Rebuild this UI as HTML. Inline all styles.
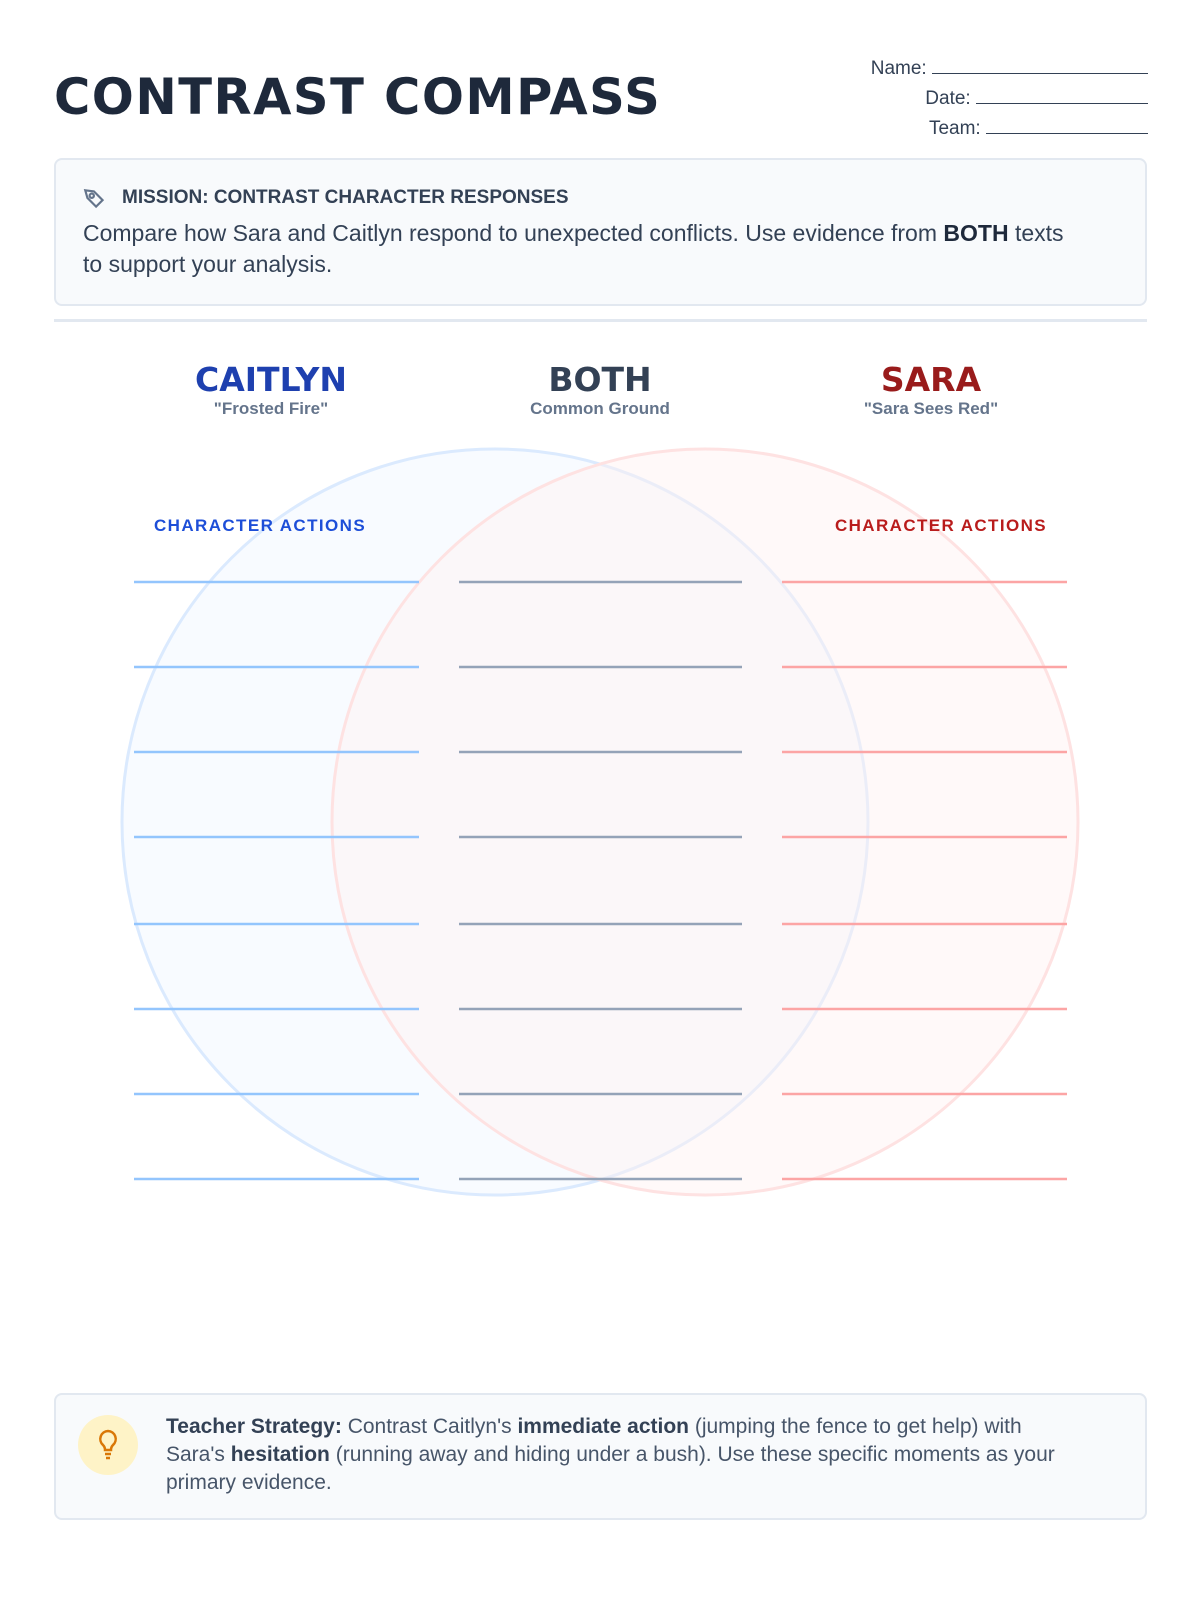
<!DOCTYPE html>
<html><head><meta charset="utf-8"><style>
*{margin:0;padding:0;box-sizing:border-box}
body{width:1200px;height:1600px;background:#fff;font-family:"Liberation Sans",sans-serif;color:#1e293b;position:relative;overflow:hidden}
.abs{position:absolute}
h1{position:absolute;left:54px;top:68px;font-size:50px;font-weight:900;letter-spacing:1.5px;color:#1e293b;font-family:"DejaVu Sans","Liberation Sans",sans-serif;transform:scaleX(0.99);transform-origin:left}
.f{position:absolute;right:52px;font-size:19px;color:#334155;white-space:nowrap}
.f span{display:inline-block;border-bottom:1.5px solid #334155;height:18px;vertical-align:baseline}
.box{position:absolute;left:54px;width:1093px;background:#f8fafc;border:2px solid #e2e8f0;border-radius:8px}
.hl{position:absolute;text-align:center;transform:translateX(-50%);white-space:nowrap}
.hl b{display:block;font-size:33px;font-weight:900;font-family:"DejaVu Sans",sans-serif}
.hl i{display:block;font-style:normal;font-size:17px;font-weight:bold;color:#64748b;margin-top:0px}
.ca{position:absolute;font-size:17px;font-weight:bold;letter-spacing:1.4px}
</style></head><body>
<h1>CONTRAST COMPASS</h1>
<div class="f" style="top:56px">Name: <span style="width:216px"></span></div>
<div class="f" style="top:86px">Date: <span style="width:172px"></span></div>
<div class="f" style="top:116px">Team: <span style="width:162px"></span></div>
<div class="box" style="top:158px;height:148px">
<svg class="abs" style="left:26px;top:26px" width="26" height="26" viewBox="0 0 24 24" fill="none" stroke="#64748b" stroke-width="2"><path d="M3 4l8 1 8 8-6 6-8-8z"/><circle cx="9" cy="9" r="2"/></svg>
<div class="abs" style="left:66px;top:27px;font-size:19px;font-weight:bold;color:#334155">MISSION: CONTRAST CHARACTER RESPONSES</div>
<div class="abs" style="left:27px;top:58px;width:1060px;font-size:23px;line-height:31px;color:#334155;white-space:nowrap">Compare how Sara and Caitlyn respond to unexpected conflicts. Use evidence from <b style="color:#1e293b">BOTH</b> texts<br>to support your analysis.</div>
</div>
<div class="abs" style="left:54px;top:319px;width:1093px;height:3px;background:#e2e8f0"></div>
<svg class="abs" style="left:0;top:0" width="1200" height="1600">
<circle cx="495" cy="822" r="373" fill="#eff6ff" fill-opacity="0.45" stroke="#dbeafe" stroke-width="3"/>
<circle cx="705" cy="822" r="373" fill="#fef2f2" fill-opacity="0.45" stroke="#fee2e2" stroke-width="3"/>
<g stroke-width="2.5">
<g stroke="#93c5fd"><line x1="134" x2="419" y1="582" y2="582"/><line x1="134" x2="419" y1="667" y2="667"/><line x1="134" x2="419" y1="752" y2="752"/><line x1="134" x2="419" y1="837" y2="837"/><line x1="134" x2="419" y1="924" y2="924"/><line x1="134" x2="419" y1="1009" y2="1009"/><line x1="134" x2="419" y1="1094" y2="1094"/><line x1="134" x2="419" y1="1179" y2="1179"/></g>
<g stroke="#94a3b8"><line x1="459" x2="742" y1="582" y2="582"/><line x1="459" x2="742" y1="667" y2="667"/><line x1="459" x2="742" y1="752" y2="752"/><line x1="459" x2="742" y1="837" y2="837"/><line x1="459" x2="742" y1="924" y2="924"/><line x1="459" x2="742" y1="1009" y2="1009"/><line x1="459" x2="742" y1="1094" y2="1094"/><line x1="459" x2="742" y1="1179" y2="1179"/></g>
<g stroke="#fca5a5"><line x1="782" x2="1067" y1="582" y2="582"/><line x1="782" x2="1067" y1="667" y2="667"/><line x1="782" x2="1067" y1="752" y2="752"/><line x1="782" x2="1067" y1="837" y2="837"/><line x1="782" x2="1067" y1="924" y2="924"/><line x1="782" x2="1067" y1="1009" y2="1009"/><line x1="782" x2="1067" y1="1094" y2="1094"/><line x1="782" x2="1067" y1="1179" y2="1179"/></g>
</g></svg>
<div class="hl" style="left:271px;top:360px"><b style="color:#1e40af">CAITLYN</b><i>"Frosted Fire"</i></div>
<div class="hl" style="left:600px;top:360px"><b style="color:#334155">BOTH</b><i>Common Ground</i></div>
<div class="hl" style="left:931px;top:360px"><b style="color:#991b1b">SARA</b><i>"Sara Sees Red"</i></div>
<div class="ca" style="left:154px;top:516px;color:#1d4ed8">CHARACTER ACTIONS</div>
<div class="ca" style="right:153px;top:516px;color:#b91c1c">CHARACTER ACTIONS</div>
<div class="box" style="top:1393px;height:127px">
<div class="abs" style="left:22px;top:20px;width:60px;height:60px;border-radius:50%;background:#fef3c7"></div>
<svg class="abs" style="left:40px;top:33px" width="24" height="34" viewBox="0 0 24 34" fill="none" stroke="#d97706" stroke-width="2.5"><path d="M12 3a8 8 0 0 0-5 14c1 1 2 3 2 5h6c0-2 1-4 2-5a8 8 0 0 0-5-14z"/><line x1="9" y1="26" x2="15" y2="26"/><line x1="10" y1="30" x2="14" y2="30"/></svg>
<div class="abs" style="left:110px;top:18px;width:960px;font-size:21px;line-height:28px;color:#475569;white-space:nowrap"><b style="color:#334155">Teacher Strategy:</b> Contrast Caitlyn's <b style="color:#334155">immediate action</b> (jumping the fence to get help) with<br>Sara's <b style="color:#334155">hesitation</b> (running away and hiding under a bush). Use these specific moments as your<br>primary evidence.</div>
</div>
</body></html>
